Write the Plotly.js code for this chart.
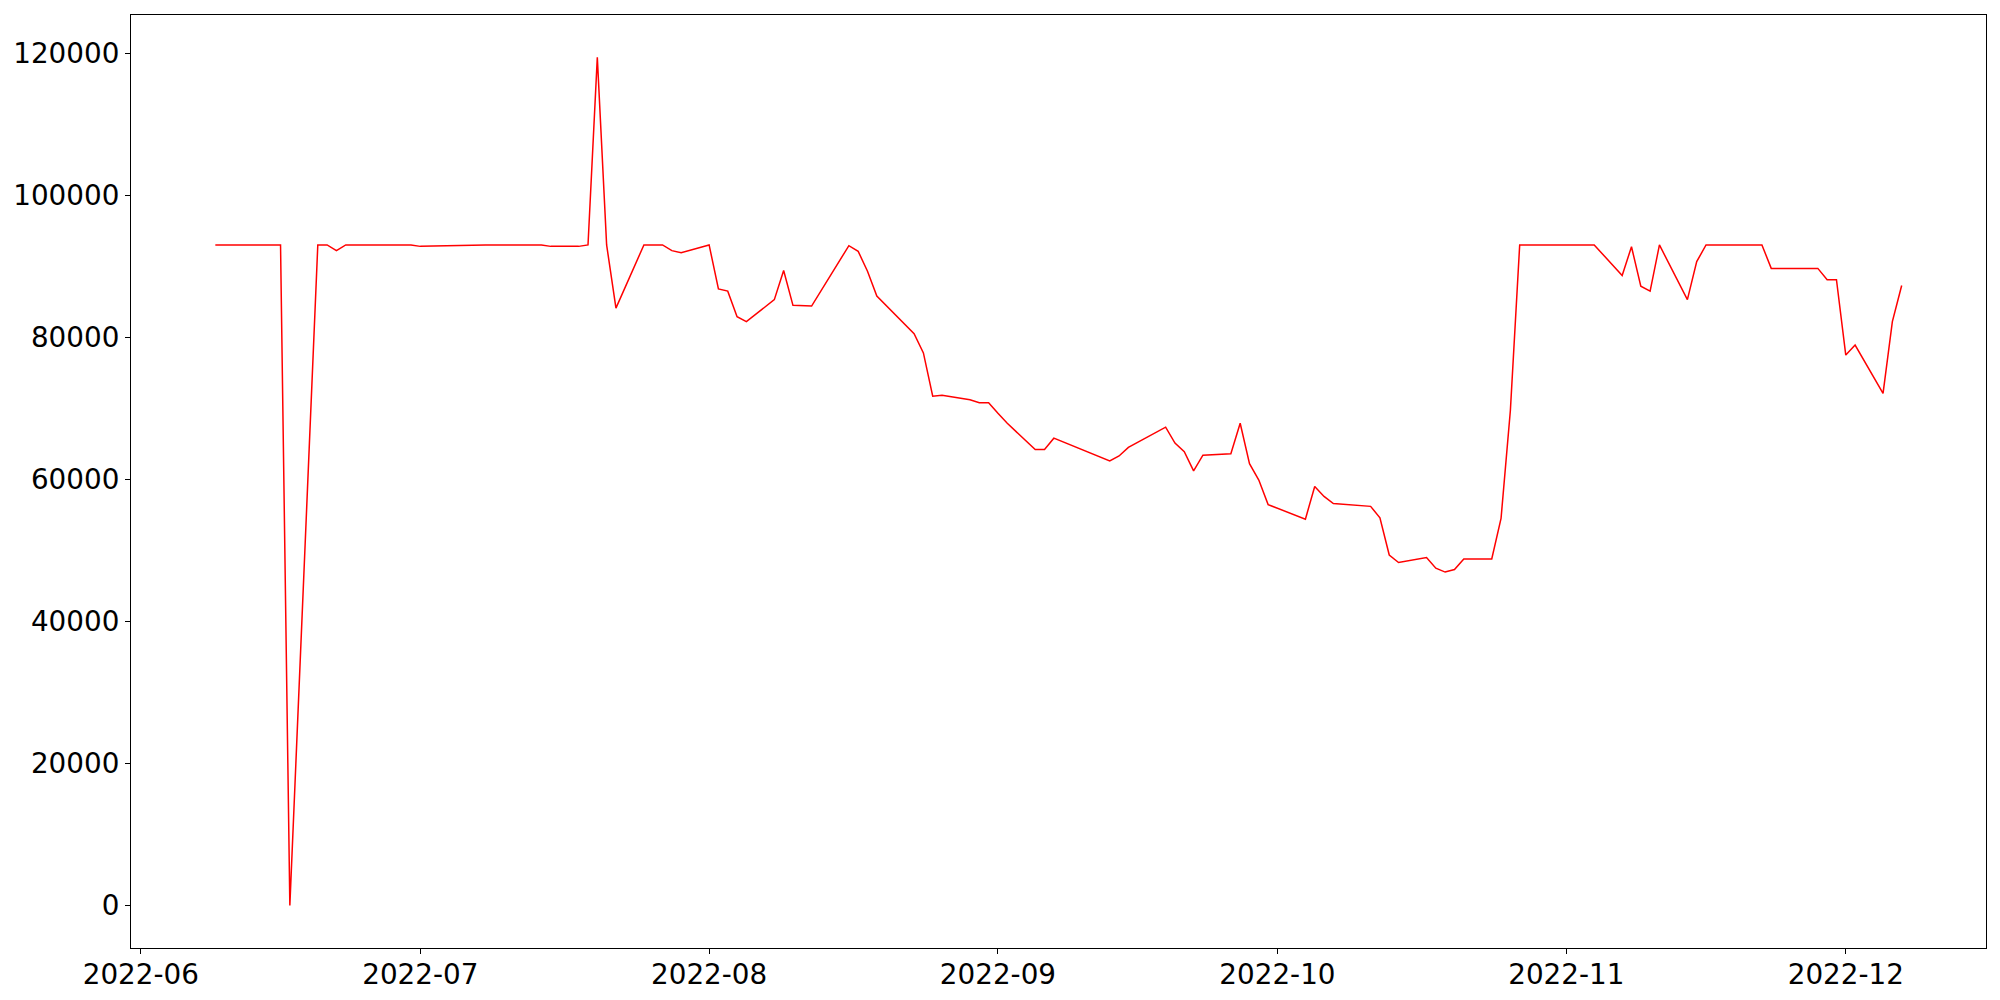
<!DOCTYPE html>
<html>
<head>
<meta charset="utf-8">
<script src="https://cdn.plot.ly/plotly-3.0.1.min.js"></script>
<style>html,body{margin:0;padding:0;background:#fff;}</style>
</head>
<body>
<div id="chart" style="width:2000px;height:1000px;"></div>
<script>
const dates = [
  "2022-06-09","2022-06-10","2022-06-13","2022-06-14","2022-06-15","2022-06-16","2022-06-17",
  "2022-06-20","2022-06-21","2022-06-22","2022-06-23","2022-06-24","2022-06-27","2022-06-28",
  "2022-06-29","2022-06-30",
  "2022-07-01","2022-07-05","2022-07-06","2022-07-07","2022-07-08","2022-07-11","2022-07-12",
  "2022-07-13","2022-07-14","2022-07-15","2022-07-18","2022-07-19","2022-07-20","2022-07-21",
  "2022-07-22","2022-07-25","2022-07-26","2022-07-27","2022-07-28","2022-07-29",
  "2022-08-01","2022-08-02","2022-08-03","2022-08-04","2022-08-05","2022-08-08","2022-08-09",
  "2022-08-10","2022-08-12","2022-08-16","2022-08-17","2022-08-18","2022-08-19","2022-08-22",
  "2022-08-23","2022-08-24","2022-08-25","2022-08-26","2022-08-29","2022-08-30","2022-08-31",
  "2022-09-01","2022-09-02","2022-09-05","2022-09-06","2022-09-07","2022-09-13","2022-09-14",
  "2022-09-15","2022-09-19","2022-09-20","2022-09-21","2022-09-22","2022-09-23","2022-09-26",
  "2022-09-27","2022-09-28","2022-09-29","2022-09-30",
  "2022-10-04","2022-10-05","2022-10-06","2022-10-07","2022-10-11","2022-10-12","2022-10-13",
  "2022-10-14","2022-10-17","2022-10-18","2022-10-19","2022-10-20","2022-10-21","2022-10-24",
  "2022-10-25","2022-10-26","2022-10-27","2022-10-28","2022-10-31",
  "2022-11-01","2022-11-02","2022-11-03","2022-11-04","2022-11-07","2022-11-08","2022-11-09",
  "2022-11-10","2022-11-11","2022-11-14","2022-11-15","2022-11-16","2022-11-17","2022-11-18",
  "2022-11-21","2022-11-22","2022-11-23","2022-11-25","2022-11-28","2022-11-29","2022-11-30",
  "2022-12-01","2022-12-02","2022-12-05","2022-12-06","2022-12-07"
];
const values = [
  93000,93000,93000,93000,93000,93000,0,
  93000,93000,92200,93000,93000,93000,93000,
  93000,93000,
  92800,92900,93000,93000,93000,93000,93000,
  93000,93000,92800,92800,93000,119400,93000,
  84100,93000,93000,93000,92200,91900,
  93000,86800,86500,82900,82200,85300,89400,
  84500,84400,92900,92100,89300,85800,81800,
  80500,77800,71700,71850,71200,70800,70800,
  69300,67900,64200,64200,65800,62600,63300,
  64500,67350,65100,63900,61200,63400,63600,
  67900,62200,59900,56450,
  54400,59000,57600,56600,56200,54600,49350,
  48300,49000,47500,46950,47300,48800,48800,
  54500,69700,93000,93000,93000,
  93000,93000,93000,93000,88700,92750,87200,
  86500,93000,85300,90650,93000,93000,93000,
  93000,93000,89700,89700,89700,88100,88100,
  77500,78900,72100,82200,87300
];
const yTicks = [0,20000,40000,60000,80000,100000,120000];
const xTickFormat = "%Y-%m";

const axisCommon = {
  showline: true, mirror: true, linecolor: "#000", linewidth: 1.1,
  ticks: "outside", ticklen: 5, tickwidth: 1.1, tickcolor: "#000",
  showgrid: false, zeroline: false,
  tickfont: {family: "DejaVu Sans", size: 27.8, color: "#000"}
};

const trace = {
  x: dates, y: values, type: "scatter", mode: "lines",
  line: {color: "red", width: 1.5}, hoverinfo: "skip"
};

const layout = {
  width: 2000, height: 1000,
  margin: {l: 131, r: 14, t: 15, b: 52, pad: 0},
  paper_bgcolor: "#fff", plot_bgcolor: "#fff",
  showlegend: false,
  xaxis: Object.assign({}, axisCommon, {
    type: "date",
    range: ["2022-05-30 22:48", "2022-12-16 01:12"],
    tick0: "2022-06-01", dtick: "M1", tickformat: xTickFormat,
    ticklabelstandoff: -3
  }),
  yaxis: Object.assign({}, axisCommon, {
    range: [-5970, 125370],
    tickmode: "array", tickvals: yTicks,
    ticktext: yTicks.map(v => String(v)),
    ticklabelstandoff: 0
  })
};

Plotly.newPlot("chart", [trace], layout, {staticPlot: true, displayModeBar: false});
</script>
</body>
</html>
